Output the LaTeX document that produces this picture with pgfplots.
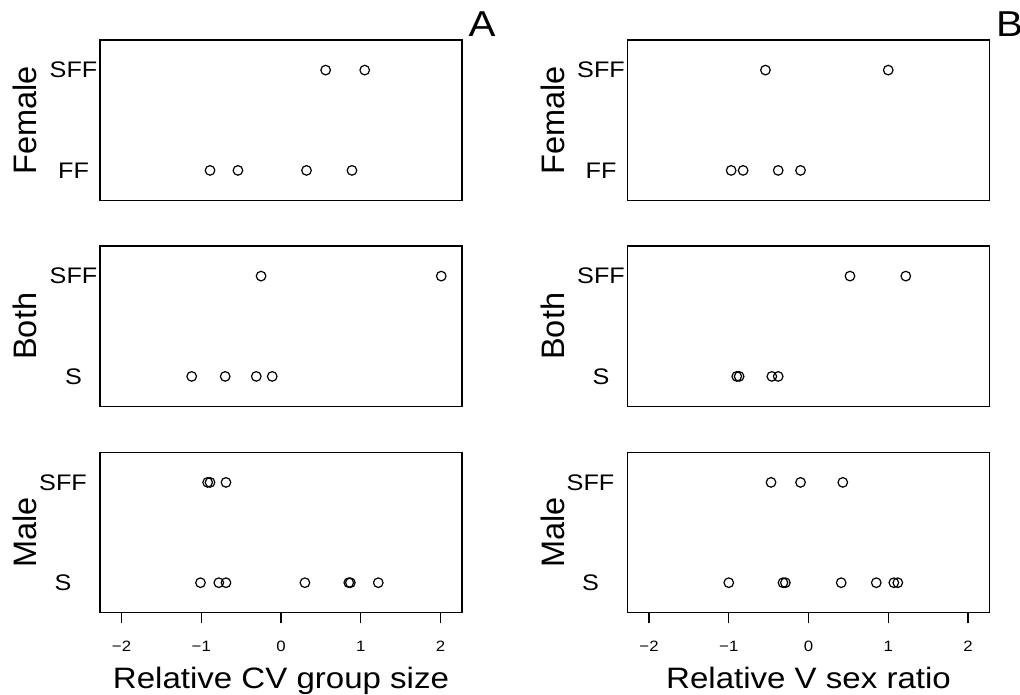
\documentclass[border=0pt]{standalone}
\usepackage{fontspec}
\setmainfont[FakeStretch=1.12]{Liberation Sans}
\newfontfamily\plainsans{Liberation Sans}
\usepackage{pgfplots}
\pgfplotsset{compat=1.18}

\pgfplotsset{
  panel/.style={
    scale only axis, width=362bp, height=160.5bp,
    anchor=north west, clip=false,
    xmin=-2.27, xmax=2.27, ymin=0.7, ymax=2.3,
    axis line style={line width=1.3bp},
    xtick=\empty,
    ytick={1,2}, ytick style={draw=none},
    yticklabel style={anchor=center, xshift=-26.5bp, font=\fontsize{22.5bp}{22.5bp}\selectfont},
    ylabel style={at={(axis description cs:-0.1754,0.5)}, anchor=base,
      font=\plainsans\fontsize{32.5bp}{32.5bp}\selectfont},
  },
  bottom/.style={
    xtick={-2,-1,0,1,2},
    xticklabels={\mbox{−2},\mbox{−1},\mbox{0},\mbox{1},\mbox{2}},
    xtick pos=bottom, tick align=outside, major tick length=10.5bp,
    xtick style={line width=1.3bp, black},
    xticklabel style={anchor=north, inner sep=0pt, yshift=-17.5bp,
      font=\fontsize{15bp}{15bp}\selectfont},
    xlabel style={at={(axis description cs:0.5,0)}, anchor=base, yshift=-75.6bp,
      font=\fontsize{29.5bp}{29.5bp}\selectfont},
  },
  dots/.style={only marks, mark=o, mark size=4.8bp, mark options={line width=1.2bp, black}},
}
\tikzset{letter/.style={anchor=base west, xshift=3bp, yshift=3.3bp,
    font=\fontsize{36bp}{36bp}\selectfont}}

\begin{document}
\begin{tikzpicture}
\useasboundingbox (0,0) rectangle (1020bp,-695bp);

% column A: relative CV group size
\begin{axis}[panel, at={(100bp,-40bp)}, yticklabels={FF,SFF}, ylabel={Female}]
  \addplot[dots] coordinates {(0.56,2) (1.05,2)
    (-0.89,1) (-0.54,1) (0.32,1) (0.89,1)};
  \node[letter] at (rel axis cs:1,1) {A};
\end{axis}

\begin{axis}[panel, at={(100bp,-246bp)}, yticklabels={S,SFF}, ylabel={Both}]
  \addplot[dots] coordinates {(-0.25,2) (2.01,2)
    (-1.12,1) (-0.70,1) (-0.31,1) (-0.11,1)};
\end{axis}

\begin{axis}[panel, bottom, at={(100bp,-452.3bp)}, yticklabels={S,SFF}, ylabel={Male},
    xlabel={Relative CV group size}]
  \addplot[dots] coordinates {(-0.92,2) (-0.89,2) (-0.69,2)
    (-1.01,1) (-0.78,1) (-0.69,1) (0.30,1) (0.85,1) (0.87,1) (1.22,1)};
\end{axis}

% column B: relative V sex ratio
\begin{axis}[panel, at={(627.5bp,-40bp)}, yticklabels={FF,SFF}, ylabel={Female}]
  \addplot[dots] coordinates {(-0.54,2) (1.00,2)
    (-0.97,1) (-0.82,1) (-0.38,1) (-0.10,1)};
  \node[letter] at (rel axis cs:1,1) {B};
\end{axis}

\begin{axis}[panel, at={(627.5bp,-246bp)}, yticklabels={S,SFF}, ylabel={Both}]
  \addplot[dots] coordinates {(0.52,2) (1.22,2)
    (-0.90,1) (-0.87,1) (-0.46,1) (-0.38,1)};
\end{axis}

\begin{axis}[panel, bottom, at={(627.5bp,-452.3bp)}, yticklabels={S,SFF}, ylabel={Male},
    xlabel={Relative V sex ratio}]
  \addplot[dots] coordinates {(-0.47,2) (-0.10,2) (0.43,2)
    (-1.00,1) (-0.32,1) (-0.29,1) (0.41,1) (0.85,1) (1.07,1) (1.12,1)};
\end{axis}
\end{tikzpicture}
\end{document}
